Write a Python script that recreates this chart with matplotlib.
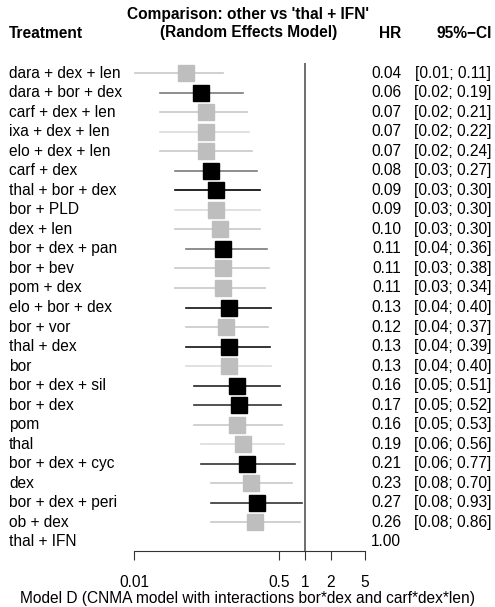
import matplotlib.pyplot as plt
from matplotlib.transforms import blended_transform_factory

plt.rcParams['font.family'] = ['Liberation Sans', 'DejaVu Sans']

# data
treatments = ['dara + dex + len', 'dara + bor + dex', 'carf + dex + len', 'ixa + dex + len',
              'elo + dex + len', 'carf + dex', 'thal + bor + dex', 'bor + PLD', 'dex + len',
              'bor + dex + pan', 'bor + bev', 'pom + dex', 'elo + bor + dex', 'bor + vor',
              'thal + dex', 'bor', 'bor + dex + sil', 'bor + dex', 'pom', 'thal',
              'bor + dex + cyc', 'dex', 'bor + dex + peri', 'ob + dex', 'thal + IFN']
hr = [0.04, 0.06, 0.07, 0.07, 0.07, 0.08, 0.09, 0.09, 0.10, 0.11, 0.11, 0.11, 0.13, 0.12,
      0.13, 0.13, 0.16, 0.17, 0.16, 0.19, 0.21, 0.23, 0.27, 0.26, 1.00]
lower = [0.01, 0.02, 0.02, 0.02, 0.02, 0.03, 0.03, 0.03, 0.03, 0.04, 0.03, 0.03, 0.04, 0.04,
         0.04, 0.04, 0.05, 0.05, 0.05, 0.06, 0.06, 0.08, 0.08, 0.08, None]
upper = [0.11, 0.19, 0.21, 0.22, 0.24, 0.27, 0.30, 0.30, 0.30, 0.36, 0.38, 0.34, 0.40, 0.37,
         0.39, 0.40, 0.51, 0.52, 0.53, 0.56, 0.77, 0.70, 0.93, 0.86, None]
# black squares = comparisons with interaction terms
interaction = [0, 1, 0, 0, 0, 1, 1, 0, 0, 1, 0, 0, 1, 0, 1, 0, 1, 1, 0, 0, 1, 0, 1, 0, 0]
xticks = [0.01, 0.5, 1, 2, 5]

# colours of the CI lines
line_col = ['#c8c8c8', '#7a7a7a', '#c8c8c8', '#dcdcdc', '#c8c8c8', '#7a7a7a', '#000000',
            '#dcdcdc', '#c8c8c8', '#7a7a7a', '#c8c8c8', '#c8c8c8', '#111111', '#c8c8c8',
            '#111111', '#dcdcdc', '#222222', '#333333', '#c8c8c8', '#dcdcdc', '#333333',
            '#c8c8c8', '#333333', '#c8c8c8', '#c8c8c8']

W, H = 495, 607
fig = plt.figure(figsize=(W / 100, H / 100), dpi=100)
ax = fig.add_axes([134 / W, (H - 551) / H, (365 - 134) / W, (551 - 63) / H])
ax.set_xscale('log')
ax.set_xlim(0.01, 5)
n = len(treatments)
ax.set_ylim(24 + 9 / 19.53, -10 / 19.53)

for i in range(n):
    if lower[i] is None:
        continue
    ax.plot([lower[i], upper[i]], [i, i], color=line_col[i], lw=1.2, zorder=2)
    ax.plot(hr[i], i, marker='s', markersize=11,
            color='black' if interaction[i] else '#bebebe', zorder=3)

ax.axvline(1, color='#6e6e6e', lw=1.4, zorder=1)

for s in ['top', 'left', 'right']:
    ax.spines[s].set_visible(False)
ax.spines['bottom'].set_color('#333333')
ax.set_yticks([])
ax.set_xticks(xticks)
ax.set_xticklabels(['0.01', '0.5', '1', '2', '5'])
ax.minorticks_off()
ax.tick_params(axis='x', length=6.5, color='#333333', labelsize=11.2, pad=10.5)

fs = 11.2
tr = blended_transform_factory(fig.transFigure, ax.transData)
for i in range(n):
    fig.text(9 / W, i, treatments[i], transform=tr, fontsize=fs, va='center', ha='left')
    fig.text(401 / W, i, '%.2f' % hr[i], transform=tr, fontsize=fs, va='center', ha='right')
    if lower[i] is not None:
        fig.text(491 / W, i, '[%.2f; %.2f]' % (lower[i], upper[i]), transform=tr,
                 fontsize=fs, va='center', ha='right')

# header
fig.text(248 / W, 1 - 15 / H, "Comparison: other vs 'thal + IFN'", fontsize=fs,
         fontweight='bold', ha='center', va='center')
fig.text(249 / W, 1 - 33 / H, '(Random Effects Model)', fontsize=fs,
         fontweight='bold', ha='center', va='center')
fig.text(9 / W, 1 - 33 / H, 'Treatment', fontsize=fs, fontweight='bold', ha='left', va='center')
fig.text(401 / W, 1 - 33 / H, 'HR', fontsize=fs, fontweight='bold', ha='right', va='center')
fig.text(492 / W, 1 - 33 / H, '95%\u2212CI', fontsize=fs, fontweight='bold', ha='right', va='center')

fig.text(248 / W, 1 - 598 / H, 'Model D (CNMA model with interactions bor*dex and carf*dex*len)',
         fontsize=fs, ha='center', va='center')

fig.savefig('out.png', dpi=100)
